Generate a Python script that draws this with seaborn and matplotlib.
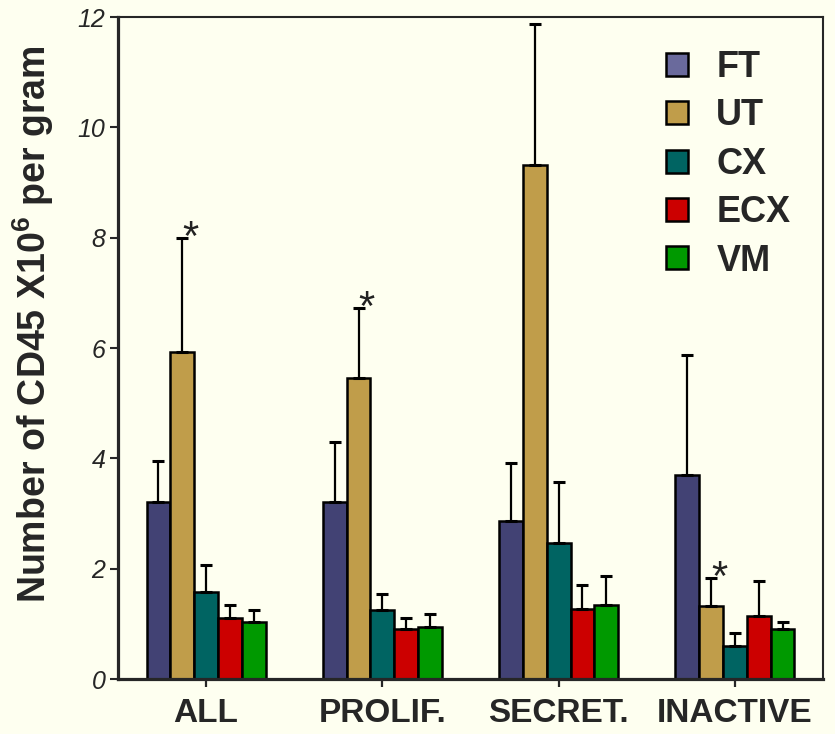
import pandas as pd
import seaborn as sns
import matplotlib.pyplot as plt
from matplotlib.patches import Patch

# values
phases = ["ALL", "PROLIF.", "SECRET.", "INACTIVE"]
tissues = ["FT", "UT", "CX", "ECX", "VM"]

ft_mean = [3.20, 3.20, 2.87, 3.70]
ut_mean = [5.92, 5.45, 9.32, 1.33]
cx_mean = [1.58, 1.26, 2.47, 0.60]
ecx_mean = [1.10, 0.90, 1.27, 1.14]
vm_mean = [1.04, 0.94, 1.35, 0.90]

ft_err = [0.75, 1.10, 1.05, 2.18]
ut_err = [2.08, 1.28, 2.56, 0.51]
cx_err = [0.48, 0.29, 1.10, 0.24]
ecx_err = [0.24, 0.20, 0.43, 0.64]
vm_err = [0.21, 0.23, 0.51, 0.14]

# significant UT groups
star_phases = ["ALL", "PROLIF.", "INACTIVE"]

yticks = [0, 2, 4, 6, 8, 10, 12]

bar_colors = ["#424274", "#c09d4a", "#006462", "#cc0000", "#009900"]
legend_colors = ["#6a6a9c", "#c09d4a", "#006462", "#cc0000", "#009900"]
bg = "#fefff0"

means = [ft_mean, ut_mean, cx_mean, ecx_mean, vm_mean]
errs = [ft_err, ut_err, cx_err, ecx_err, vm_err]

rows = []
for t, m, e in zip(tissues, means, errs):
    for p, v, s in zip(phases, m, e):
        rows.append({"phase": p, "tissue": t, "count": v, "err": s})
df = pd.DataFrame(rows)

sns.set_style("ticks")
plt.rcParams["font.family"] = ["Liberation Sans", "DejaVu Sans"]
plt.rcParams["mathtext.fontset"] = "custom"
plt.rcParams["mathtext.bf"] = "Liberation Sans:bold"
plt.rcParams["mathtext.rm"] = "Liberation Sans"

fig = plt.figure(figsize=(8.35, 7.34), dpi=100, facecolor=bg)
ax = fig.add_axes([0.1413, 0.0749, 0.8443, 0.9019])
ax.set_facecolor(bg)

sns.barplot(data=df, x="phase", y="count", hue="tissue", order=phases,
            hue_order=tissues, palette=bar_colors, width=0.676,
            edgecolor="black", linewidth=1.8, saturation=1,
            errorbar=None, legend=False, ax=ax)

# one-sided error bars on top of each bar
for cont, t in zip(ax.containers, tissues):
    sub = df[df["tissue"] == t].set_index("phase").loc[phases]
    xs = [b.get_x() + b.get_width() / 2 for b in cont]
    ax.errorbar(xs, sub["count"], yerr=[[0] * len(xs), sub["err"]],
                fmt="none", ecolor="black", elinewidth=1.6, capsize=4,
                capthick=2.2, zorder=5)
    if t == "UT":
        for x, p, v, s in zip(xs, phases, sub["count"], sub["err"]):
            if p in star_phases:
                ax.annotate("*", (x, v + s), xytext=(6, -1),
                            textcoords="offset points", ha="center",
                            va="center", fontsize=30, color="#222222")

ax.set_xlim(-0.5, 3.5)
ax.set_ylim(0, 12)
ax.set_yticks(yticks, labels=[str(v) for v in yticks], fontstyle="italic",
              fontsize=18)
ax.set_xticks(range(len(phases)), labels=phases, fontweight="bold",
              fontsize=24)
ax.set_xlabel("")
ax.set_ylabel(r"Number of CD45 X10$^{\mathbf{6}}$ per gram", fontsize=27,
              fontweight="bold")
ax.yaxis.set_label_coords(-0.088, 0.536)

ax.tick_params(axis="y", length=6, width=1.5, pad=3)
ax.tick_params(axis="x", length=6, width=1.6, pad=8)

for side in ["left", "bottom"]:
    ax.spines[side].set_linewidth(2.3)
for side in ["top", "right"]:
    ax.spines[side].set_visible(True)
    ax.spines[side].set_linewidth(1.5)

handles = [Patch(facecolor=c, edgecolor="black", linewidth=1.8, label=t)
           for c, t in zip(legend_colors, tissues)]
ax.legend(handles=handles, loc="upper left", bbox_to_anchor=(0.778, 0.950),
          frameon=False, prop={"weight": "bold", "size": 26},
          handlelength=0.6, handleheight=0.6, handletextpad=0.78,
          labelspacing=0.37, borderpad=0, borderaxespad=0)

fig.savefig("out.png", dpi=100, facecolor=bg)
